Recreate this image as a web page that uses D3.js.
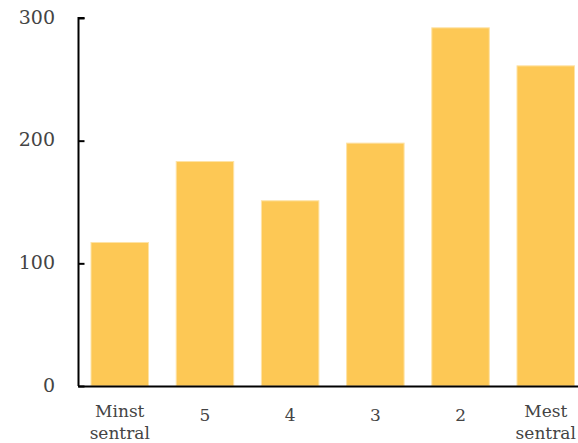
<!DOCTYPE html>
<html><head><meta charset="utf-8">
<script src="https://cdn.jsdelivr.net/npm/d3@7"></script>
<style>body{margin:0;background:#fff}svg{display:block}</style>
</head><body>
<script>
const categories = [["Minst","sentral"],["5"],["4"],["3"],["2"],["Mest","sentral"]];
const values = [117, 183, 151, 198, 292, 261];
const yTicks = [0, 100, 200, 300];

const W = 578, H = 443;
const svg = d3.select("body").append("svg").attr("width", W).attr("height", H);
const font = "DejaVu Serif";

const x = d3.scaleBand().domain(d3.range(categories.length)).range([91, 574.5]).paddingInner(0.325).paddingOuter(0);
const y = d3.scaleLinear().domain([0, 300]).range([386, 18]);

svg.selectAll("rect.bar").data(values).join("rect").attr("class","bar")
  .attr("x", (d,i) => x(i)).attr("width", x.bandwidth())
  .attr("y", d => y(d)).attr("height", d => y(0) - y(d))
  .attr("fill", "#fdc855").attr("stroke", "#fee3a6").attr("stroke-width", 1);

// y axis
const yAxis = svg.append("g").attr("transform", "translate(78.5,0)")
  .call(d3.axisRight(y).tickValues(yTicks).tickSize(6).tickFormat(""));
yAxis.select(".domain").attr("d", `M6,${y(300)}H0V${y(0)}`).attr("stroke", "#000").attr("stroke-width", 2);
yAxis.selectAll(".tick line").attr("stroke", "#000").attr("stroke-width", 2);

svg.selectAll("text.ytick").data(yTicks).join("text").attr("class","ytick")
  .attr("x", 55).attr("y", d => y(d)).attr("dy", "0.3em")
  .attr("text-anchor", "end").attr("font-family", font).attr("font-size", 19)
  .attr("fill", "#444").text(d => d);

// x axis line
svg.append("line").attr("x1", 78).attr("x2", 578).attr("y1", y(0)+0.5).attr("y2", y(0)+0.5)
  .attr("stroke", "#000").attr("stroke-width", 2);

const xl = svg.selectAll("text.xl").data(categories).join("text").attr("class","xl")
  .attr("text-anchor", "middle").attr("font-family", font).attr("font-size", 17).attr("fill", "#444")
  .attr("transform", (d,i) => `translate(${x(i) + x.bandwidth()/2},${d.length > 1 ? 417 : 421})`);
xl.selectAll("tspan").data(d => d).join("tspan").attr("x", 0).attr("dy", (d,j) => j ? 22 : 0).text(d => d);
</script>
</body></html>
